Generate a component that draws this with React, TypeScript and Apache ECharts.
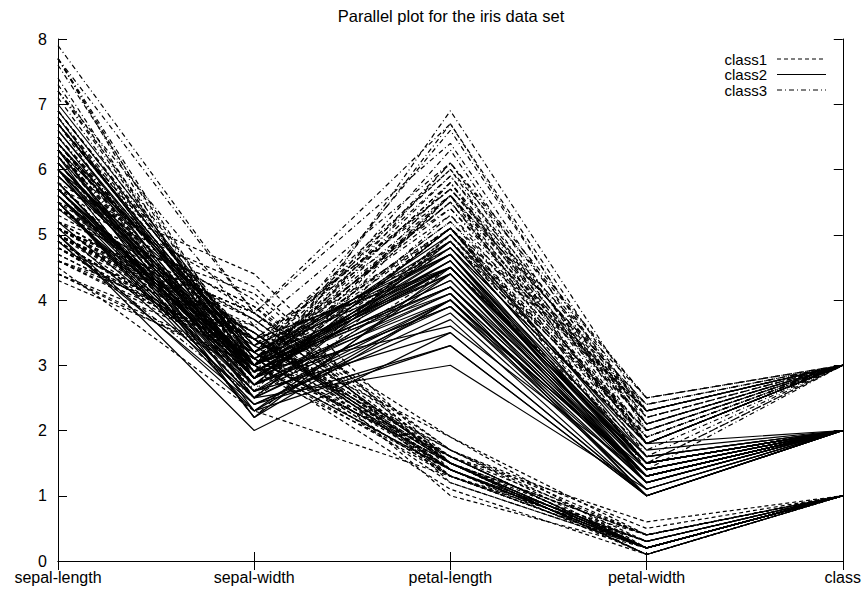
import React, { useEffect, useRef } from "react";
import * as echarts from "echarts";

const TITLE = "Parallel plot for the iris data set";
const AXES = ["sepal-length", "sepal-width", "petal-length", "petal-width", "class"];
const Y_MIN = 0;
const Y_MAX = 8;
const Y_STEP = 1;
const CLASS_NAMES = ["class1", "class2", "class3"];
const CLASS_DASH: (number[] | "solid")[] = [[4, 3], "solid", [5, 3, 1, 3]];

// sepal-length, sepal-width, petal-length, petal-width
const setosa: number[][] = [
  [5.1, 3.5, 1.4, 0.2], [4.9, 3.0, 1.4, 0.2], [4.7, 3.2, 1.3, 0.2], [4.6, 3.1, 1.5, 0.2], [5.0, 3.6, 1.4, 0.2],
  [5.4, 3.9, 1.7, 0.4], [4.6, 3.4, 1.4, 0.3], [5.0, 3.4, 1.5, 0.2], [4.4, 2.9, 1.4, 0.2], [4.9, 3.1, 1.5, 0.1],
  [5.4, 3.7, 1.5, 0.2], [4.8, 3.4, 1.6, 0.2], [4.8, 3.0, 1.4, 0.1], [4.3, 3.0, 1.1, 0.1], [5.8, 4.0, 1.2, 0.2],
  [5.7, 4.4, 1.5, 0.4], [5.4, 3.9, 1.3, 0.4], [5.1, 3.5, 1.4, 0.3], [5.7, 3.8, 1.7, 0.3], [5.1, 3.8, 1.5, 0.3],
  [5.4, 3.4, 1.7, 0.2], [5.1, 3.7, 1.5, 0.4], [4.6, 3.6, 1.0, 0.2], [5.1, 3.3, 1.7, 0.5], [4.8, 3.4, 1.9, 0.2],
  [5.0, 3.0, 1.6, 0.2], [5.0, 3.4, 1.6, 0.4], [5.2, 3.5, 1.5, 0.2], [5.2, 3.4, 1.4, 0.2], [4.7, 3.2, 1.6, 0.2],
  [4.8, 3.1, 1.6, 0.2], [5.4, 3.4, 1.5, 0.4], [5.2, 4.1, 1.5, 0.1], [5.5, 4.2, 1.4, 0.2], [4.9, 3.1, 1.5, 0.1],
  [5.0, 3.2, 1.2, 0.2], [5.5, 3.5, 1.3, 0.2], [4.9, 3.1, 1.5, 0.1], [4.4, 3.0, 1.3, 0.2], [5.1, 3.4, 1.5, 0.2],
  [5.0, 3.5, 1.3, 0.3], [4.5, 2.3, 1.3, 0.3], [4.4, 3.2, 1.3, 0.2], [5.0, 3.5, 1.6, 0.6], [5.1, 3.8, 1.9, 0.4],
  [4.8, 3.0, 1.4, 0.3], [5.1, 3.8, 1.6, 0.2], [4.6, 3.2, 1.4, 0.2], [5.3, 3.7, 1.5, 0.2], [5.0, 3.3, 1.4, 0.2],
];

const versicolor: number[][] = [
  [7.0, 3.2, 4.7, 1.4], [6.4, 3.2, 4.5, 1.5], [6.9, 3.1, 4.9, 1.5], [5.5, 2.3, 4.0, 1.3], [6.5, 2.8, 4.6, 1.5],
  [5.7, 2.8, 4.5, 1.3], [6.3, 3.3, 4.7, 1.6], [4.9, 2.4, 3.3, 1.0], [6.6, 2.9, 4.6, 1.3], [5.2, 2.7, 3.9, 1.4],
  [5.0, 2.0, 3.5, 1.0], [5.9, 3.0, 4.2, 1.5], [6.0, 2.2, 4.0, 1.0], [6.1, 2.9, 4.7, 1.4], [5.6, 2.9, 3.6, 1.3],
  [6.7, 3.1, 4.4, 1.4], [5.6, 3.0, 4.5, 1.5], [5.8, 2.7, 4.1, 1.0], [6.2, 2.2, 4.5, 1.5], [5.6, 2.5, 3.9, 1.1],
  [5.9, 3.2, 4.8, 1.8], [6.1, 2.8, 4.0, 1.3], [6.3, 2.5, 4.9, 1.5], [6.1, 2.8, 4.7, 1.2], [6.4, 2.9, 4.3, 1.3],
  [6.6, 3.0, 4.4, 1.4], [6.8, 2.8, 4.8, 1.4], [6.7, 3.0, 5.0, 1.7], [6.0, 2.9, 4.5, 1.5], [5.7, 2.6, 3.5, 1.0],
  [5.5, 2.4, 3.8, 1.1], [5.5, 2.4, 3.7, 1.0], [5.8, 2.7, 3.9, 1.2], [6.0, 2.7, 5.1, 1.6], [5.4, 3.0, 4.5, 1.5],
  [6.0, 3.4, 4.5, 1.6], [6.7, 3.1, 4.7, 1.5], [6.3, 2.3, 4.4, 1.3], [5.6, 3.0, 4.1, 1.3], [5.5, 2.5, 4.0, 1.3],
  [5.5, 2.6, 4.4, 1.2], [6.1, 3.0, 4.6, 1.4], [5.8, 2.6, 4.0, 1.2], [5.0, 2.3, 3.3, 1.0], [5.6, 2.7, 4.2, 1.3],
  [5.7, 3.0, 4.2, 1.2], [5.7, 2.9, 4.2, 1.3], [6.2, 2.9, 4.3, 1.3], [5.1, 2.5, 3.0, 1.1], [5.7, 2.8, 4.1, 1.3],
];

const virginica: number[][] = [
  [6.3, 3.3, 6.0, 2.5], [5.8, 2.7, 5.1, 1.9], [7.1, 3.0, 5.9, 2.1], [6.3, 2.9, 5.6, 1.8], [6.5, 3.0, 5.8, 2.2],
  [7.6, 3.0, 6.6, 2.1], [4.9, 2.5, 4.5, 1.7], [7.3, 2.9, 6.3, 1.8], [6.7, 2.5, 5.8, 1.8], [7.2, 3.6, 6.1, 2.5],
  [6.5, 3.2, 5.1, 2.0], [6.4, 2.7, 5.3, 1.9], [6.8, 3.0, 5.5, 2.1], [5.7, 2.5, 5.0, 2.0], [5.8, 2.8, 5.1, 2.4],
  [6.4, 3.2, 5.3, 2.3], [6.5, 3.0, 5.5, 1.8], [7.7, 3.8, 6.7, 2.2], [7.7, 2.6, 6.9, 2.3], [6.0, 2.2, 5.0, 1.5],
  [6.9, 3.2, 5.7, 2.3], [5.6, 2.8, 4.9, 2.0], [7.7, 2.8, 6.7, 2.0], [6.3, 2.7, 4.9, 1.8], [6.7, 3.3, 5.7, 2.1],
  [7.2, 3.2, 6.0, 1.8], [6.2, 2.8, 4.8, 1.8], [6.1, 3.0, 4.9, 1.8], [6.4, 2.8, 5.6, 2.1], [7.2, 3.0, 5.8, 1.6],
  [7.4, 2.8, 6.1, 1.9], [7.9, 3.8, 6.4, 2.0], [6.4, 2.8, 5.6, 2.2], [6.3, 2.8, 5.1, 1.5], [6.1, 2.6, 5.6, 1.4],
  [7.7, 3.0, 6.1, 2.3], [6.3, 3.4, 5.6, 2.4], [6.4, 3.1, 5.5, 1.8], [6.0, 3.0, 4.8, 1.8], [6.9, 3.1, 5.4, 2.1],
  [6.7, 3.1, 5.6, 2.4], [6.9, 3.1, 5.1, 2.3], [5.8, 2.7, 5.1, 1.9], [6.8, 3.2, 5.9, 2.3], [6.7, 3.3, 5.7, 2.5],
  [6.7, 3.0, 5.2, 2.3], [6.3, 2.5, 5.0, 1.9], [6.5, 3.0, 5.2, 2.0], [6.2, 3.4, 5.4, 2.3], [5.9, 3.0, 5.1, 1.8],
];

const CLASS_ROWS = [setosa, versicolor, virginica];

const FONT = '"Liberation Sans", Arial, Helvetica, sans-serif';

export default function App() {
  const ref = useRef<HTMLDivElement>(null);

  useEffect(() => {
    document.body.style.margin = "0";
    if (!ref.current) return;
    const chart = echarts.init(ref.current, undefined, { renderer: "svg" });

    const series: any[] = [];
    CLASS_ROWS.forEach((rows, ci) => {
      rows.forEach((row) => {
        series.push({
          type: "line",
          name: CLASS_NAMES[ci],
          data: [...row, ci + 1],
          symbol: "none",
          silent: true,
          lineStyle: { color: "#000", width: 1.2, type: CLASS_DASH[ci] },
        });
      });
    });

    const legendX = 767;
    const sampleX1 = 777;
    const sampleX2 = 826;
    const legendY = [59, 74.5, 90];
    const legendGraphics: any[] = [];
    CLASS_NAMES.forEach((name, i) => {
      legendGraphics.push({
        type: "text",
        x: legendX,
        y: legendY[i],
        style: {
          text: name,
          align: "right",
          verticalAlign: "middle",
          font: `15px ${FONT}`,
          fill: "#000",
        },
      });
      const dash = CLASS_DASH[i];
      legendGraphics.push({
        type: "line",
        shape: { x1: sampleX1, y1: legendY[i], x2: sampleX2, y2: legendY[i] },
        style: {
          stroke: "#000",
          lineWidth: 1,
          lineDash: dash === "solid" ? null : dash,
        },
      });
    });

    const axisLine = { show: true, lineStyle: { color: "#000", width: 1 } };
    const axisTick = { show: true, inside: true, length: 9, lineStyle: { color: "#000", width: 1 } };

    chart.setOption({
      animation: false,
      backgroundColor: "#fff",
      grid: { left: 58, right: 19, top: 39, bottom: 30, containLabel: false },
      xAxis: [
        {
          type: "category",
          data: AXES,
          boundaryGap: false,
          position: "bottom",
          axisLine,
          axisTick,
          splitLine: { show: false },
          axisLabel: { color: "#000", fontSize: 16, fontFamily: FONT, margin: 8, interval: 0 },
        },
        {
          type: "category",
          data: AXES,
          boundaryGap: false,
          position: "top",
          axisLine,
          axisTick,
          splitLine: { show: false },
          axisLabel: { show: false },
        },
      ],
      yAxis: [
        {
          type: "value",
          min: Y_MIN,
          max: Y_MAX,
          interval: Y_STEP,
          position: "left",
          axisLine,
          axisTick,
          splitLine: { show: false },
          axisLabel: { color: "#000", fontSize: 16, fontFamily: FONT, margin: 11 },
        },
        {
          type: "value",
          min: Y_MIN,
          max: Y_MAX,
          interval: Y_STEP,
          position: "right",
          axisLine,
          axisTick,
          splitLine: { show: false },
          axisLabel: { show: false },
        },
      ],
      series,
      graphic: [
        {
          type: "text",
          x: 451,
          y: 16,
          style: {
            text: TITLE,
            align: "center",
            verticalAlign: "middle",
            font: `16.5px ${FONT}`,
            fill: "#000",
          },
        },
        ...legendGraphics,
      ],
    });

    return () => chart.dispose();
  }, []);

  return <div ref={ref} style={{ width: 864, height: 591 }} />;
}
